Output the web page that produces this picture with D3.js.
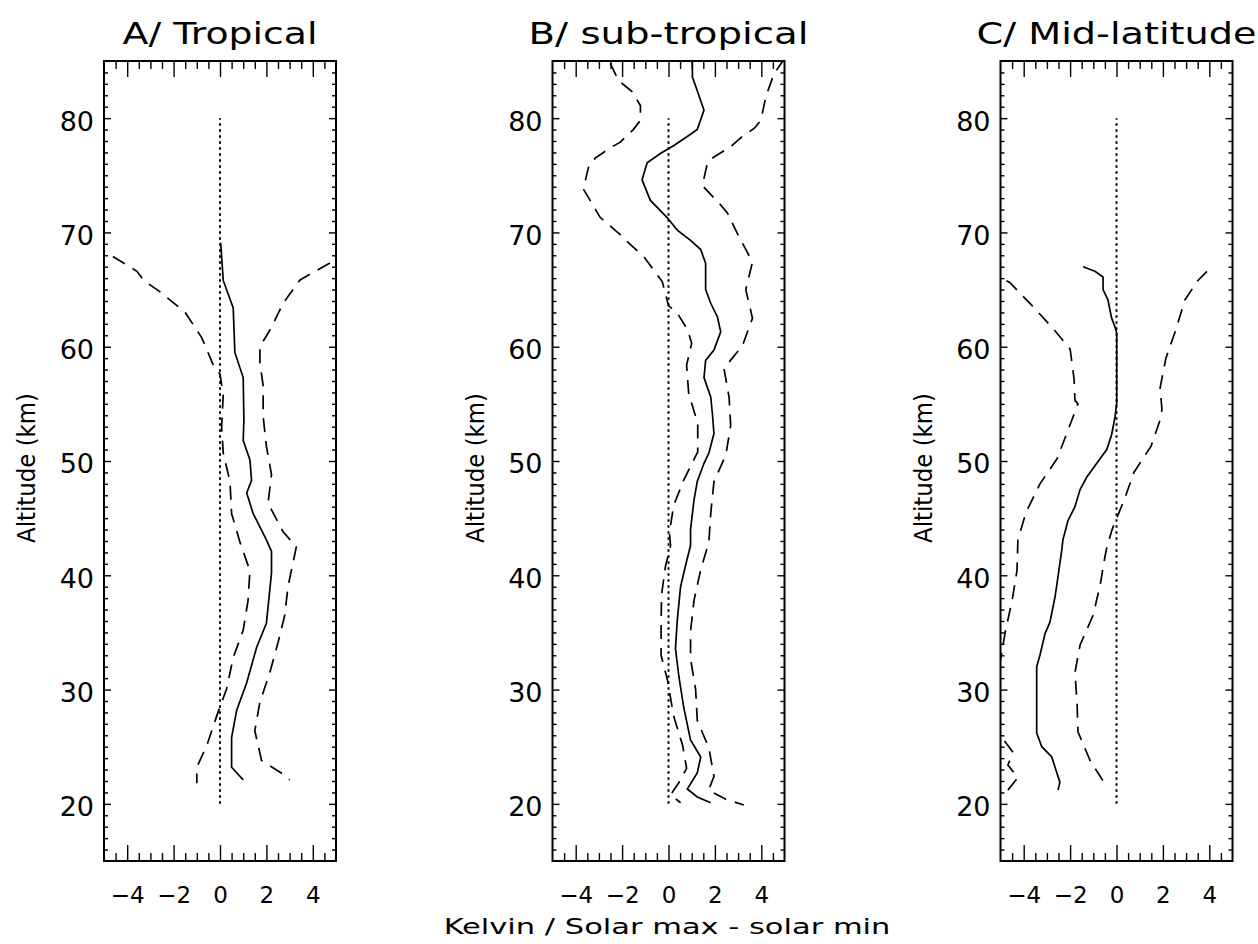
<!DOCTYPE html>
<html><head><meta charset="utf-8">
<script src="https://cdn.jsdelivr.net/npm/d3@7"></script>
<style>
html,body{margin:0;padding:0;background:#fff;}
svg{display:block;}
text{font-family:"DejaVu Sans",sans-serif;fill:#000;}
</style></head><body>
<svg id="chart" width="1258" height="944"></svg>
<script>
// ---------- data ----------
const panelTitles = ["A/ Tropical", "B/ sub-tropical", "C/ Mid-latitude"];
const xTickValues = [-4, -2, 0, 2, 4];
const yTickValues = [20, 30, 40, 50, 60, 70, 80];
const xAxisLabel = "Kelvin / Solar max - solar min";
const yAxisLabel = "Altitude (km)";
const zeroLine = [[0, 20], [0, 80]];

// [Kelvin, altitude km]
const tropMean = [[0.03,69.1],[0.14,65.8],[0.57,63.4],[0.64,59.5],[1.0,57.3],[1.03,53.6],[1.0,51.8],[1.29,50.1],[1.36,48.3],[1.15,47.2],[1.43,45.4],[2.0,43.1],[2.22,42.1],[2.22,40.2],[2.0,35.8],[1.58,33.7],[1.15,30.6],[0.72,28.2],[0.5,25.8],[0.5,23.2],[1.0,22.1]];
const tropHigh = [[5.6,68.3],[4.72,67.3],[3.58,66.0],[3.43,65.8],[2.72,63.8],[2.22,61.7],[1.72,60.0],[1.72,58.6],[1.86,56.6],[1.86,53.9],[2.0,51.3],[2.22,48.8],[2.07,46.3],[2.72,43.8],[3.29,42.5],[3.22,41.8],[2.93,39.0],[2.79,36.5],[2.5,34.1],[2.15,31.5],[1.72,28.9],[1.5,26.4],[1.79,23.8],[2.79,22.5],[3.0,22.1]];
const tropLow = [[-5.5,68.8],[-4.86,68.2],[-3.58,66.6],[-3.29,65.8],[-2.58,64.8],[-1.5,63.0],[-0.79,60.8],[-0.29,58.4],[0,57.6],[0.14,55.8],[0.07,53.0],[0.14,50.7],[0.43,48.2],[0.5,45.4],[0.86,42.9],[1.29,40.4],[1.21,37.8],[1.0,35.2],[0.57,32.8],[0.29,30.1],[-0.14,27.7],[-0.57,25.1],[-1.0,23.2],[-1.0,21.8]];

const subMean = [[1.03,85],[1.03,83.6],[1.24,82.4],[1.53,80.7],[1.24,79.0],[0.81,78.4],[0.23,77.6],[-0.35,76.9],[-0.92,76.1],[-1.14,74.6],[-0.78,72.8],[-0.06,71.3],[0.38,70.2],[0.95,69.3],[1.39,68.5],[1.6,67.3],[1.6,65.0],[1.82,63.8],[2.11,62.6],[2.25,61.3],[1.96,59.7],[1.6,58.8],[1.53,57.3],[1.82,55.6],[1.89,54.2],[1.96,52.4],[1.74,50.7],[1.53,49.8],[1.24,48.2],[1.1,46.6],[0.95,44.0],[0.95,42.6],[0.74,40.9],[0.52,39.0],[0.38,36.1],[0.3,33.6],[0.45,31.1],[0.66,28.4],[0.95,25.6],[1.39,24.1],[1.24,22.7],[0.81,21.3],[1.24,20.6],[1.82,20.1]];
const subHigh = [[5.0,85.2],[4.55,83.9],[4.2,81.9],[3.98,79.8],[3.69,79.1],[3.12,78.3],[2.68,77.5],[1.96,76.6],[1.68,76.1],[1.46,74.1],[2.25,72.4],[2.54,71.7],[2.97,69.9],[3.62,67.4],[3.33,65.0],[3.62,62.5],[3.19,60.1],[2.39,58.1],[2.61,55.6],[2.68,53.1],[2.47,50.5],[1.96,48.2],[1.82,45.4],[1.74,42.9],[1.39,40.5],[1.1,37.8],[0.95,35.1],[0.95,32.7],[1.17,30.0],[1.24,27.3],[1.74,24.9],[1.96,22.4],[1.73,21.2],[2.47,20.4],[3.25,19.9]];
const subLow = [[-2.51,84.8],[-2.16,83.3],[-1.56,82.3],[-1.21,81.1],[-1.21,79.8],[-1.52,79.0],[-2.08,77.9],[-2.51,77.4],[-3.16,76.5],[-3.45,75.7],[-3.67,73.8],[-2.94,71.3],[-2.08,69.8],[-1.73,69.1],[-1.07,67.9],[-0.27,65.7],[0,63.6],[0.39,62.9],[0.82,61.5],[1.0,60.3],[0.78,58.4],[0.87,55.9],[1.26,53.3],[1.26,50.8],[0.65,48.3],[0.22,46.1],[0.04,43.7],[0.09,42.6],[-0.13,40.8],[-0.3,38.3],[-0.32,35.6],[-0.32,33.0],[-0.04,30.8],[0.22,27.7],[0.61,25.1],[0.78,23.1],[0.43,21.8],[0.09,20.8],[0.52,20.1]];

const midMean = [[-1.44,67.0],[-0.93,66.6],[-0.58,66.1],[-0.58,65.0],[-0.37,64.1],[-0.21,62.5],[-0.06,61.7],[0.01,61.2],[0.01,55.1],[-0.06,53.9],[-0.21,52.3],[-0.42,51.0],[-0.85,49.8],[-1.28,48.6],[-1.57,47.5],[-1.79,46.0],[-2.09,44.8],[-2.31,43.1],[-2.36,42.2],[-2.52,39.9],[-2.65,38.1],[-2.87,35.9],[-3.08,34.9],[-3.3,33.0],[-3.44,32.0],[-3.44,26.2],[-3.22,25.0],[-2.79,24.1],[-2.65,23.2],[-2.44,21.9],[-2.52,21.2]];
const midHigh = [[3.9,66.6],[3.51,65.8],[2.95,64.1],[2.56,61.5],[2.13,59.0],[1.88,56.4],[1.96,54.5],[1.88,53.6],[1.49,51.3],[0.75,49.0],[0.37,46.8],[-0.19,44.0],[-0.41,42.5],[-0.5,41.6],[-0.71,39.1],[-1.01,36.5],[-1.57,33.9],[-1.79,31.5],[-1.7,28.8],[-1.66,26.3],[-1.14,23.8],[-0.45,21.6]];
const midLow = [[-5.6,66.8],[-4.59,65.6],[-3.69,63.7],[-2.78,61.7],[-2.0,59.8],[-1.83,57.2],[-1.79,55.3],[-1.66,55.0],[-2.09,52.7],[-2.56,50.2],[-3.3,48.0],[-3.9,45.5],[-4.25,43.1],[-4.29,40.4],[-4.5,37.8],[-4.8,35.0],[-4.98,32.8],[-5.3,30.0],[-5.2,26.5],[-4.46,24.5],[-4.68,23.4],[-4.25,22.3],[-4.68,21.2]];

const panelSeries = [
  {mean: tropMean, high: tropHigh, low: tropLow},
  {mean: subMean,  high: subHigh,  low: subLow},
  {mean: midMean,  high: midHigh,  low: midLow}
];

// ---------- layout ----------
const panelLeft = [104, 552.5, 1000.5];
const panelW = 232;
const plotTop = 61, plotBottom = 861;
const titleLen = [195, 280, 280];

const svg = d3.select("#chart");
svg.append("rect").attr("width",1258).attr("height",944).attr("fill","#fff");

// text stretched horizontally to a target width (wide plotting font look)
function wideText(parent, str, fontSize, width, tx, ty, rot) {
  const t = parent.append("text").attr("text-anchor", "middle")
    .attr("font-size", fontSize).text(str);
  const natural = t.node().getComputedTextLength();
  const sx = width / natural;
  t.attr("transform", `translate(${tx},${ty})` + (rot ? ` rotate(${rot})` : "") + ` scale(${sx},1)`);
  return t;
}

const majorX = xTickValues;
const minorX = d3.range(-4.5, 5, 0.5).filter(v => !majorX.includes(v));
const minorY = d3.range(16, 85, 1).filter(v => !yTickValues.includes(v));

panelSeries.forEach((s, i) => {
  const x = d3.scaleLinear().domain([-5, 5]).range([0, panelW]);
  const y = d3.scaleLinear().domain([15, 85]).range([plotBottom, plotTop]);
  const g = svg.append("g").attr("transform", `translate(${panelLeft[i]},0)`);

  const clipId = "clip" + i;
  g.append("clipPath").attr("id", clipId).append("rect")
    .attr("x", 0).attr("y", plotTop).attr("width", panelW).attr("height", plotBottom - plotTop);

  const styleAxis = (sel, fs) => {
    sel.select(".domain").remove();
    sel.attr("font-family", "DejaVu Sans, sans-serif").attr("font-size", fs);
    sel.selectAll("line").attr("stroke", "#000").attr("stroke-width", 1.4);
    sel.selectAll("text").attr("fill", "#000");
  };

  // bottom axis
  g.append("g").attr("transform", `translate(0,${plotBottom})`)
    .call(d3.axisBottom(x).tickValues(majorX).tickSizeInner(-16).tickSizeOuter(0).tickPadding(26).tickFormat(d3.format("d")))
    .call(a => styleAxis(a, 23));
  g.append("g").attr("transform", `translate(0,${plotBottom})`)
    .call(d3.axisBottom(x).tickValues(minorX).tickSizeInner(-8).tickSizeOuter(0).tickFormat(""))
    .call(a => styleAxis(a, 23));
  // top axis
  g.append("g").attr("transform", `translate(0,${plotTop})`)
    .call(d3.axisTop(x).tickValues(majorX).tickSizeInner(-16).tickSizeOuter(0).tickFormat(""))
    .call(a => styleAxis(a, 23));
  g.append("g").attr("transform", `translate(0,${plotTop})`)
    .call(d3.axisTop(x).tickValues(minorX).tickSizeInner(-8).tickSizeOuter(0).tickFormat(""))
    .call(a => styleAxis(a, 23));
  // left axis
  g.append("g")
    .call(d3.axisLeft(y).tickValues(yTickValues).tickSizeInner(-7).tickSizeOuter(0).tickPadding(10).tickFormat(d3.format("d")))
    .call(a => { styleAxis(a, 27); a.selectAll("text").attr("dy", "0.44em"); });
  g.append("g")
    .call(d3.axisLeft(y).tickValues(minorY).tickSizeInner(-4).tickSizeOuter(0).tickFormat(""))
    .call(a => styleAxis(a, 27));
  // right axis
  g.append("g").attr("transform", `translate(${panelW},0)`)
    .call(d3.axisRight(y).tickValues(yTickValues).tickSizeInner(-7).tickSizeOuter(0).tickFormat(""))
    .call(a => styleAxis(a, 27));
  g.append("g").attr("transform", `translate(${panelW},0)`)
    .call(d3.axisRight(y).tickValues(minorY).tickSizeInner(-4).tickSizeOuter(0).tickFormat(""))
    .call(a => styleAxis(a, 27));

  // frame
  g.append("rect").attr("x", 0).attr("y", plotTop).attr("width", panelW).attr("height", plotBottom - plotTop)
    .attr("fill", "none").attr("stroke", "#000").attr("stroke-width", 2);

  const line = d3.line().x(d => x(d[0])).y(d => y(d[1]));

  // zero reference (dotted)
  g.append("path").datum(zeroLine).attr("d", line)
    .attr("fill", "none").attr("stroke", "#000").attr("stroke-width", 2)
    .attr("stroke-dasharray", "2.5,3.5");

  const lines = g.append("g").attr("clip-path", `url(#${clipId})`);
  lines.append("path").datum(s.mean).attr("d", line)
    .attr("fill", "none").attr("stroke", "#000").attr("stroke-width", 1.7);
  [s.high, s.low].forEach(d => {
    lines.append("path").datum(d).attr("d", line)
      .attr("fill", "none").attr("stroke", "#000").attr("stroke-width", 1.7)
      .attr("stroke-dasharray", "14,9");
  });

  // title
  wideText(g, panelTitles[i], 31, titleLen[i], panelW / 2, 44, 0);

  // y-axis label
  wideText(g, yAxisLabel, 24, 150, 35 - 104, 468, -90);
});

// x-axis label (shared, under middle panel)
wideText(svg, xAxisLabel, 21, 447, 667, 934, 0);
</script>
</body></html>
